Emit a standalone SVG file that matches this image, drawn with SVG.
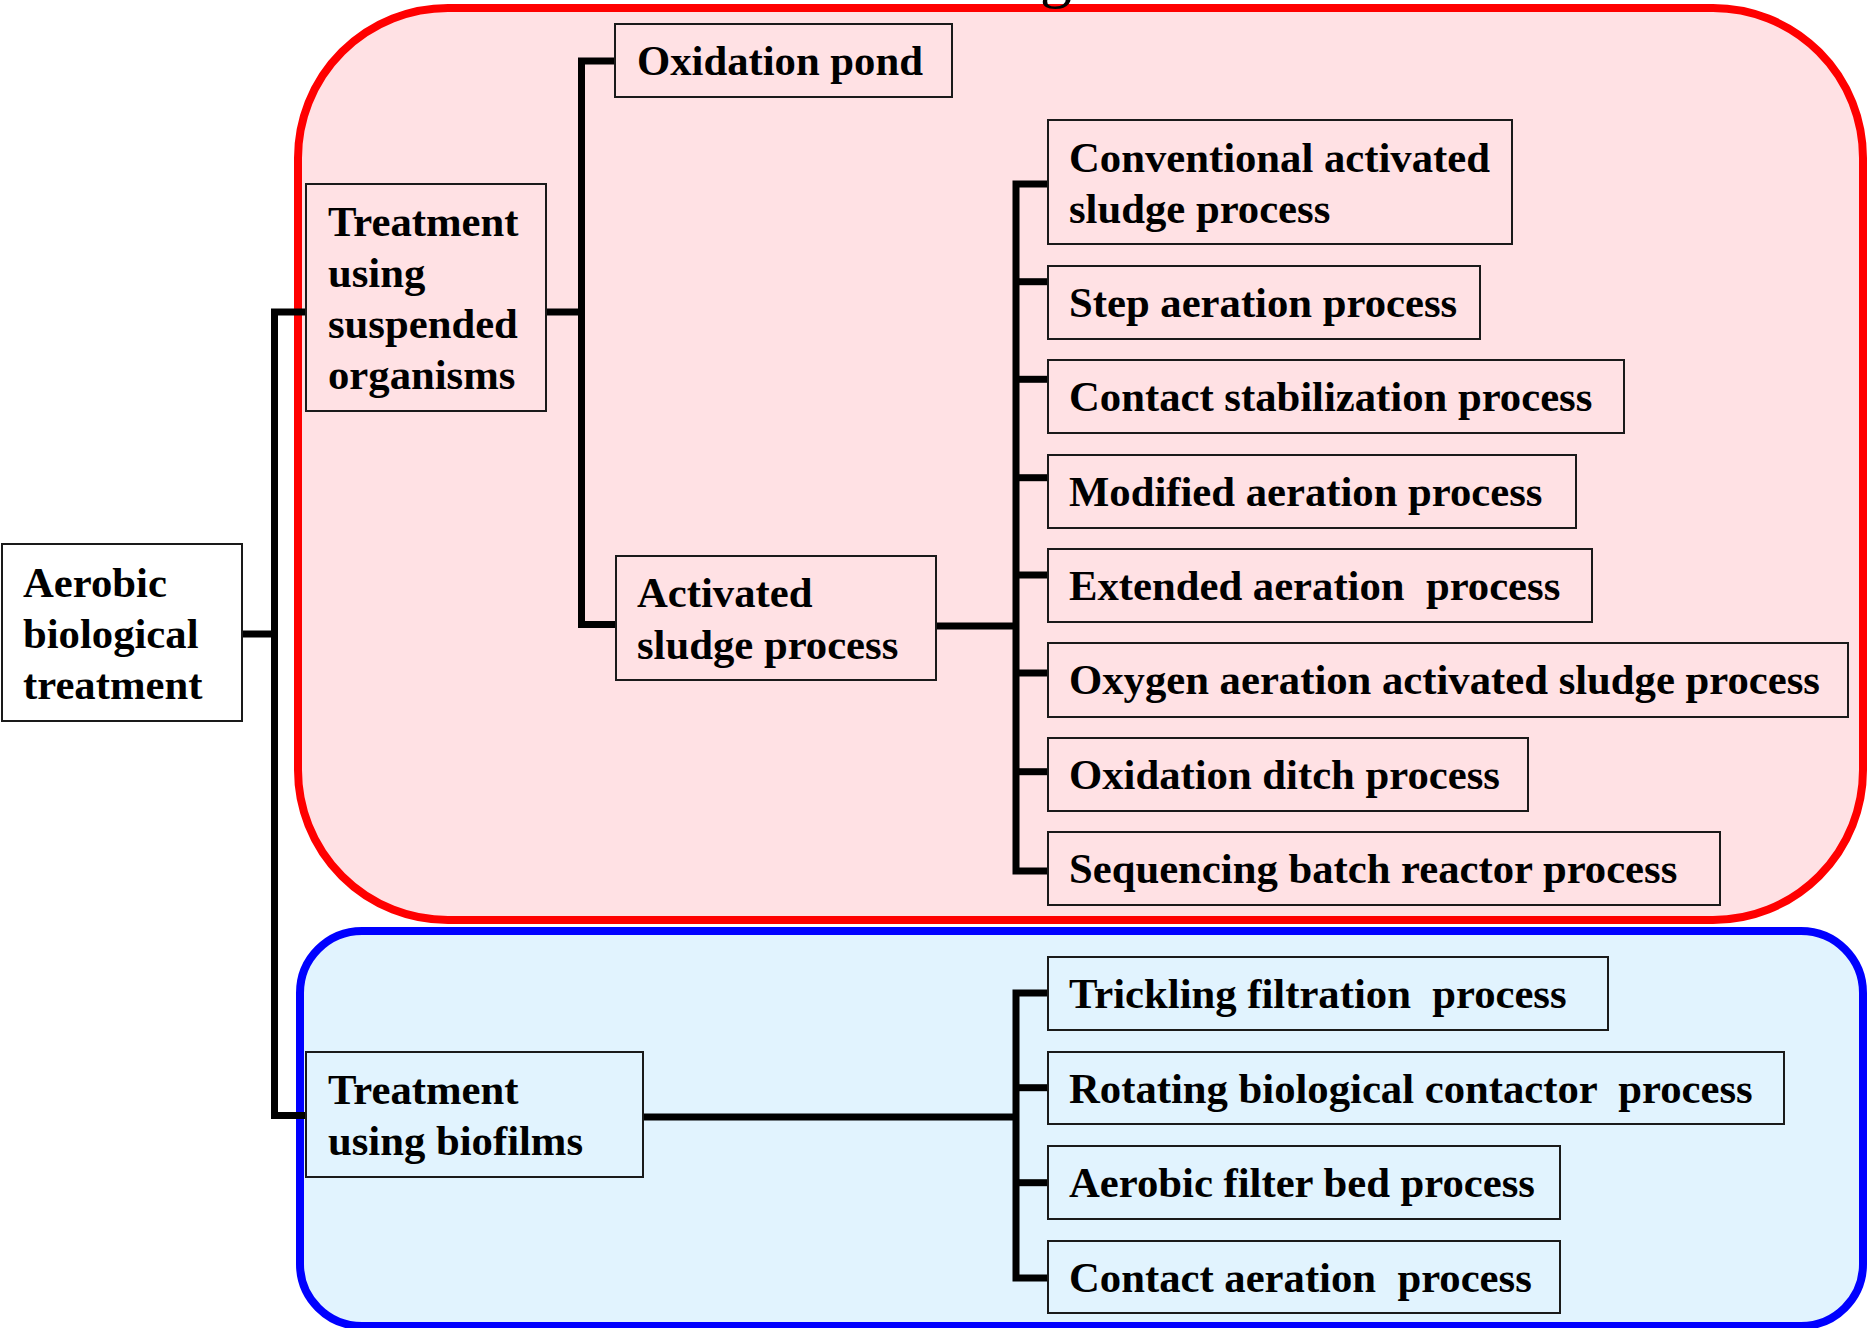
<svg xmlns="http://www.w3.org/2000/svg" width="1867" height="1328" viewBox="0 0 1867 1328">
<style>
.bg{fill:#ffffff}
.region-red{fill:#FFE1E4;stroke:#FF0000;stroke-width:8}
.region-blue{fill:#E1F3FE;stroke:#0000FF;stroke-width:8}
.box{fill:none;stroke:#1a1a1a;stroke-width:2}
.box-white{fill:#ffffff;stroke:#1a1a1a;stroke-width:2}
.lbl{font-family:"Liberation Serif","Times New Roman",serif;font-weight:bold;font-size:42.7px;fill:#000}
.frag{font-family:"Liberation Serif","Times New Roman",serif;font-size:64px;fill:#000}
.conn{fill:none;stroke:#000;stroke-width:7;stroke-linejoin:miter;stroke-linecap:butt}
</style>
<rect class="bg" x="0" y="0" width="1867" height="1328"/>
<g id="regions">
<rect id="region-suspended" class="region-red" x="298" y="8" width="1565" height="912" rx="150" ry="150"/>
<rect id="region-biofilm" class="region-blue" x="300" y="931" width="1563" height="395" rx="62" ry="62"/>
</g>
<text class="frag" x="1040" y="-5">g</text>
<g id="connectors">
<path class="conn" d="M242,634 H274.5"/>
<path class="conn" d="M306,312 H274.5 V1115.5 H306"/>
<path class="conn" d="M546,312 H581.5"/>
<path class="conn" d="M615,61 H581.5 V624.5 H616"/>
<path class="conn" d="M936,626 H1016"/>
<path class="conn" d="M1048,184 H1016 V871 H1048"/>
<path class="conn" d="M1016,281.7 H1048"/>
<path class="conn" d="M1016,379.3 H1048"/>
<path class="conn" d="M1016,477.7 H1048"/>
<path class="conn" d="M1016,575 H1048"/>
<path class="conn" d="M1016,673 H1048"/>
<path class="conn" d="M1016,771.7 H1048"/>
<path class="conn" d="M643,1117 H1016"/>
<path class="conn" d="M1048,993 H1016 V1278 H1048"/>
<path class="conn" d="M1016,1087.7 H1048"/>
<path class="conn" d="M1016,1182.7 H1048"/>
</g>
<g id="n-root"><rect class="box-white" x="2" y="544" width="240" height="177"/>
<text class="lbl" x="23" y="597">Aerobic</text><text class="lbl" x="23" y="648">biological</text><text class="lbl" x="23" y="699">treatment</text></g>
<g id="n-suspended"><rect class="box" x="306" y="184" width="240" height="227"/>
<text class="lbl" x="328" y="236">Treatment</text><text class="lbl" x="328" y="287">using</text><text class="lbl" x="328" y="338">suspended</text><text class="lbl" x="328" y="389">organisms</text></g>
<g id="n-biofilms"><rect class="box" x="306" y="1052" width="337" height="125"/>
<text class="lbl" x="328" y="1104">Treatment</text><text class="lbl" x="328" y="1155">using biofilms</text></g>
<g id="n-pond"><rect class="box" x="615" y="24" width="337" height="73"/>
<text class="lbl" x="637" y="75">Oxidation pond</text></g>
<g id="n-activated"><rect class="box" x="616" y="556" width="320" height="124"/>
<text class="lbl" x="637" y="607">Activated</text><text class="lbl" x="637" y="659">sludge process</text></g>
<g id="n-conventional"><rect class="box" x="1048" y="120" width="464" height="124"/>
<text class="lbl" x="1069" y="172">Conventional activated</text><text class="lbl" x="1069" y="223">sludge process</text></g>
<g id="n-step"><rect class="box" x="1048" y="266" width="432" height="73"/>
<text class="lbl" x="1069" y="317">Step aeration process</text></g>
<g id="n-contactstab"><rect class="box" x="1048" y="360" width="576" height="73"/>
<text class="lbl" x="1069" y="411">Contact stabilization process</text></g>
<g id="n-modified"><rect class="box" x="1048" y="455" width="528" height="73"/>
<text class="lbl" x="1069" y="506">Modified aeration process</text></g>
<g id="n-extended"><rect class="box" x="1048" y="549" width="544" height="73"/>
<text class="lbl" x="1069" y="600" xml:space="preserve">Extended aeration  process</text></g>
<g id="n-oxygen"><rect class="box" x="1048" y="643" width="800" height="74"/>
<text class="lbl" x="1069" y="694">Oxygen aeration activated sludge process</text></g>
<g id="n-ditch"><rect class="box" x="1048" y="738" width="480" height="73"/>
<text class="lbl" x="1069" y="789">Oxidation ditch process</text></g>
<g id="n-sbr"><rect class="box" x="1048" y="832" width="672" height="73"/>
<text class="lbl" x="1069" y="883">Sequencing batch reactor process</text></g>
<g id="n-trickling"><rect class="box" x="1048" y="957" width="560" height="73"/>
<text class="lbl" x="1069" y="1008" xml:space="preserve">Trickling filtration  process</text></g>
<g id="n-rotating"><rect class="box" x="1048" y="1052" width="736" height="72"/>
<text class="lbl" x="1069" y="1103" xml:space="preserve">Rotating biological contactor  process</text></g>
<g id="n-aerobicfilter"><rect class="box" x="1048" y="1146" width="512" height="73"/>
<text class="lbl" x="1069" y="1197">Aerobic filter bed process</text></g>
<g id="n-contactaer"><rect class="box" x="1048" y="1241" width="512" height="72"/>
<text class="lbl" x="1069" y="1292" xml:space="preserve">Contact aeration  process</text></g>
</svg>
